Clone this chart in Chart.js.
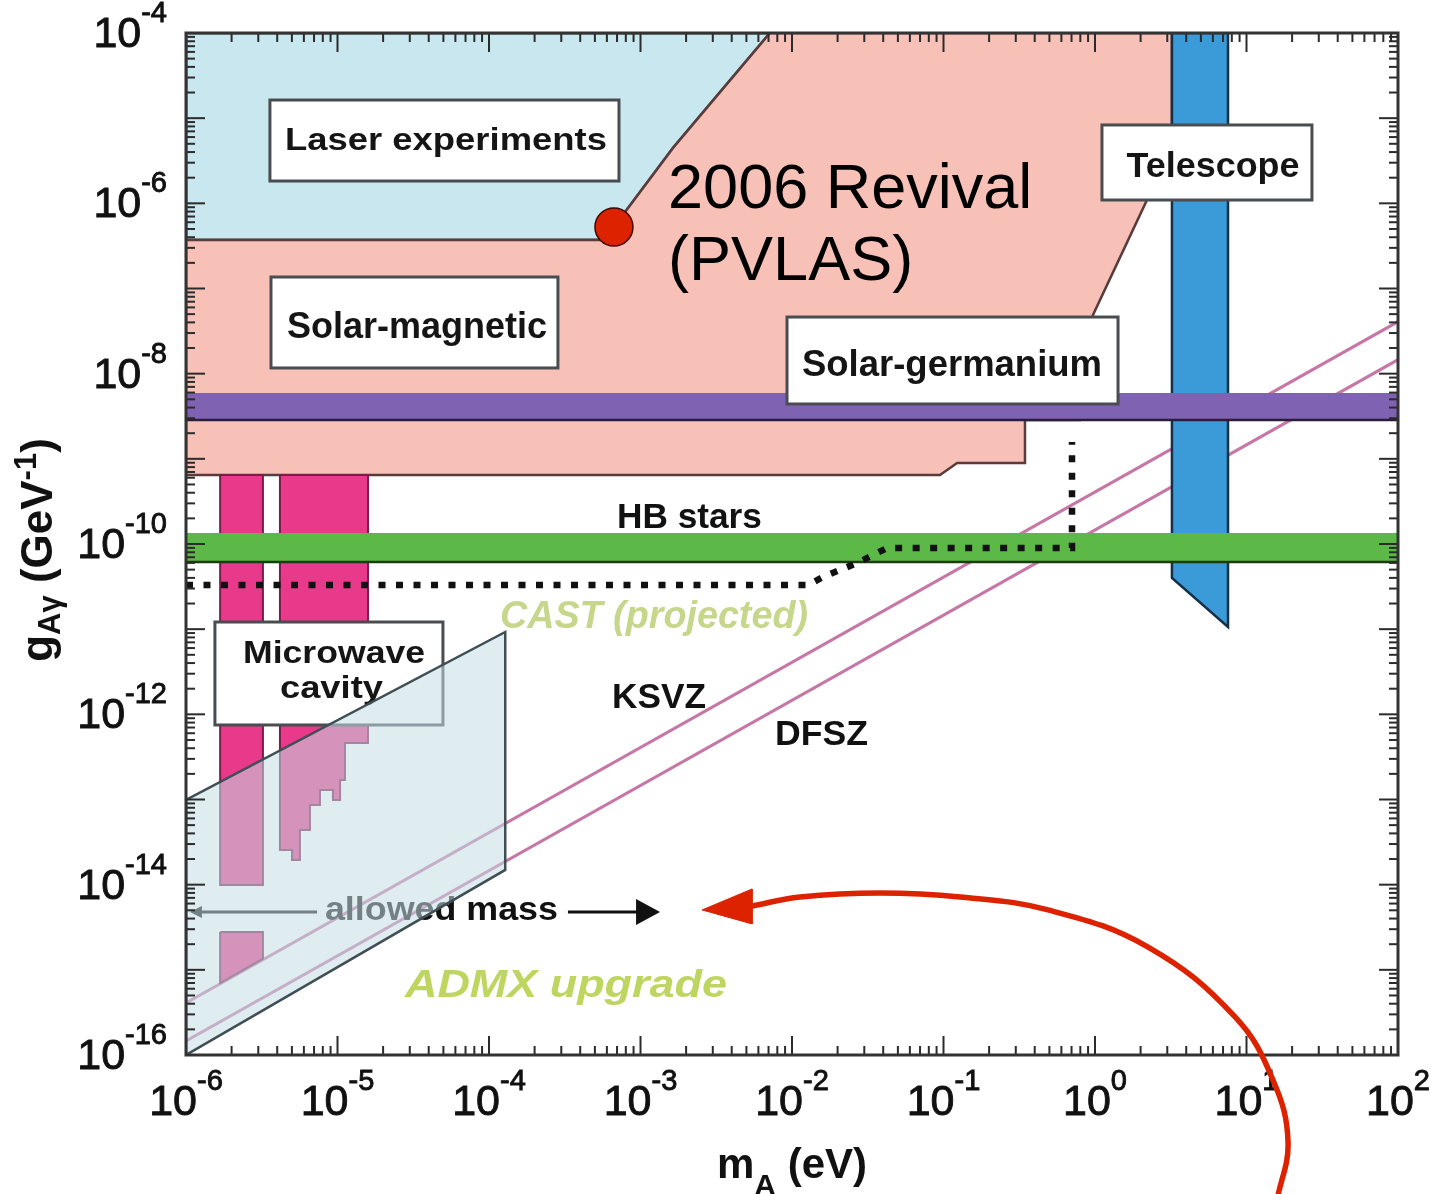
<!DOCTYPE html>
<html>
<head>
<meta charset="utf-8">
<title>Axion exclusion limits</title>
<script src="https://cdn.jsdelivr.net/npm/chart.js@4.4.1/dist/chart.umd.min.js"></script>
<style>
  html, body { margin: 0; padding: 0; background: #ffffff; }
  canvas { display: block; }
</style>
</head>
<body>
<canvas id="chart" width="1431" height="1194"></canvas>
<script>
// Axion mass m_A (eV) against photon coupling g_Aγ (GeV^-1); every pair is [m_A, g].
const xTickExponents = [-6, -5, -4, -3, -2, -1, 0, 1, 2];
const yTickExponents = [-4, -6, -8, -10, -12, -14, -16];

const laserExperiments = [[1e-6,1e-4],[7.16e-3,1e-4],[1.64e-3,4.47e-6],[6.68e-4,5.27e-7],[5.41e-4,3.71e-7],[1e-6,3.71e-7],[1e-6,1e-4]];
const solarMagnetic = [[1e-6,3.71e-7],[5.41e-4,3.71e-7],[6.68e-4,5.27e-7],[1.64e-3,4.47e-6],[7.16e-3,1e-4],[3.22,1e-4],[3.22,1.25e-6],[2.20,1.09e-6],[0.97,4.89e-8],[0.796,2.86e-9],[0.345,2.86e-9],[0.345,8.93e-10],[0.123,8.93e-10],[9.48e-2,6.46e-10],[1e-6,6.46e-10],[1e-6,3.71e-7]];
const ksvzLine = [[1e-6,4.08e-16],[1e2,4.08e-8]];
const dfszLine = [[1e-6,1.46e-16],[1e2,1.46e-8]];
const cavityBandA = [[1.68e-6,6.46e-10],[3.22e-6,6.46e-10],[3.22e-6,9.93e-15],[1.68e-6,9.93e-15],[1.68e-6,6.46e-10]];
const cavityBandALow = [[1.68e-6,2.79e-15],[3.22e-6,2.79e-15],[3.22e-6,1.35e-15],[1.68e-6,7.0e-16],[1.68e-6,2.79e-15]];
const cavityBandB = [[4.17e-6,6.46e-10],[1.59e-5,6.46e-10],[1.59e-5,4.61e-13],[1.12e-5,4.61e-13],[1.12e-5,1.69e-13],[1.04e-5,1.69e-13],[1.04e-5,9.88e-14],[9.33e-6,9.88e-14],[9.33e-6,1.29e-13],[7.66e-6,1.29e-13],[7.66e-6,8.63e-14],[6.58e-6,8.63e-14],[6.58e-6,4.39e-14],[5.65e-6,4.39e-14],[5.65e-6,1.95e-14],[5.01e-6,1.95e-14],[5.01e-6,2.55e-14],[4.17e-6,2.55e-14],[4.17e-6,6.46e-10]];
const telescope = [[3.22,1e-4],[7.55,1e-4],[7.55,1.06e-11],[3.22,3.99e-11],[3.22,1e-4]];
const solarGermanium = [[1e-6,5.93e-9],[1e2,5.93e-9],[1e2,2.86e-9],[1e-6,2.86e-9],[1e-6,5.93e-9]];
const solarGermaniumEdge = [[1e-6,2.86e-9],[1e2,2.86e-9]];
const hbStars = [[1e-6,1.35e-10],[1e2,1.35e-10],[1e2,6.15e-11],[1e-6,6.15e-11],[1e-6,1.35e-10]];
const hbStarsEdge = [[1e-6,6.15e-11],[1e2,6.15e-11]];
const castProjected = [[1e-6,3.30e-11],[1.28e-2,3.30e-11],[1.60e-2,4.10e-11],[2.07e-2,4.95e-11],[2.69e-2,5.98e-11],[3.43e-2,7.43e-11],[4.24e-2,8.98e-11],[0.705,8.98e-11],[0.705,1.58e-9]];
const admxUpgrade = [[1e-6,9.88e-14],[1.28e-4,9.27e-12],[1.28e-4,1.49e-14],[1e-6,1e-16],[1e-6,9.88e-14]];
const revivalArc = [[5.45e-3,5.62e-15],[1.13e-2,7.18e-15],[3.81e-2,8.0e-15],[0.129,7.18e-15],[0.490,5.05e-15],[2.24,1.85e-15],[8.40,2.80e-16],[14.96,5.09e-17],[18.8,9.53e-18],[15.9,1.99e-18]];
const revivalArrowHead = [[2.55e-3,5.05e-15],[5.45e-3,8.9e-15],[5.45e-3,3.46e-15],[2.55e-3,5.05e-15]];
const pvlasPoint = [[6.68e-4,5.27e-7]];

const toXY = a => a.map(([x, y]) => ({ x, y }));
const FONT = '"Liberation Sans", Arial, Helvetica, sans-serif';

function region(tag, arr, fillColor, borderColor, borderWidth) {
  return { tag, data: toXY(arr), fill: 'shape', backgroundColor: fillColor,
           borderColor, borderWidth, borderJoinStyle: 'miter', pointRadius: 0 };
}
function path(tag, arr, color, width, extra) {
  return Object.assign({ tag, data: toXY(arr), fill: false, borderColor: color,
           borderWidth: width, pointRadius: 0 }, extra || {});
}

const datasets = [
  region('laser', laserExperiments, '#c9e7ef', '#4f5a5f', 3),
  region('solar-magnetic', solarMagnetic, '#f7c1b8', '#5a3b3b', 2.5),
  path('ksvz', ksvzLine, 'rgba(192,104,156,0.9)', 3),
  path('dfsz', dfszLine, 'rgba(192,104,156,0.9)', 3),
  region('cavity-a', cavityBandA, '#e8398b', '#7b1d4c', 2),
  region('cavity-a-low', cavityBandALow, '#e8398b', '#7b1d4c', 2),
  region('cavity-b', cavityBandB, '#e8398b', '#7b1d4c', 2),
  region('telescope', telescope, '#3b9ad8', '#143049', 2.5),
  region('solar-germanium', solarGermanium, '#7f62b2', 'rgba(0,0,0,0)', 0),
  path('solar-germanium-edge', solarGermaniumEdge, '#2a1f3a', 2.5),
  region('hb-stars', hbStars, '#5cb947', 'rgba(0,0,0,0)', 0),
  path('hb-stars-edge', hbStarsEdge, '#1d3a12', 2.5),
  path('cast', castProjected, '#111111', 6.5, { borderDash: [7, 10.5], borderCapStyle: 'butt', borderJoinStyle: 'miter' }),
  region('admx', admxUpgrade, 'rgba(196,222,230,0.55)', '#3f4f55', 2.5),
  path('revival-arc', revivalArc, '#dd2200', 5.5, { tension: 0.4, capBezierPoints: false, clip: false, borderCapStyle: 'round' }),
  Object.assign(region('revival-head', revivalArrowHead, '#dd2200', '#dd2200', 1), { clip: false }),
  { tag: 'pvlas', data: toXY(pvlasPoint), showLine: false, pointRadius: 19,
    pointBackgroundColor: '#dd2200', pointBorderColor: '#3a0a00', pointBorderWidth: 1.5, clip: false }
];
// first entry sits at the bottom of the stack
datasets.forEach((d, i) => { d.order = datasets.length - i; d.pointHoverRadius = 0; });

// Label boxes and free texts, positioned in log10 data coordinates [log m, log g].
const labelBoxes = [
  { box: [-5.446, -4.787, -3.142, -5.738], lines: [{ t: 'Laser experiments', at: [-4.284, -5.374], size: 31, w: 322 }] },
  { box: [-5.439, -6.865, -3.545, -7.933], lines: [{ t: 'Solar-magnetic', at: [-4.475, -7.581], size: 36, w: 260 }] },
  { box: [-2.033, -7.335, 0.152, -8.356], lines: [{ t: 'Solar-germanium', at: [-0.944, -8.027], size: 36, w: 300 }] },
  { box: [0.046, -5.080, 1.432, -5.961], lines: [{ t: 'Telescope', at: [0.779, -5.691], size: 35, w: 173 }] },
  { box: [-5.809, -10.916, -4.304, -12.125], lines: [
      { t: 'Microwave', at: [-5.023, -11.397], size: 32, w: 182 },
      { t: 'cavity', at: [-5.040, -11.808], size: 32, w: 103 }] }
];
const freeLabels = [
  { t: 'HB stars', at: [-2.677, -9.812], size: 35, w: 145, color: '#111111', style: 'bold' },
  { t: 'CAST (projected)', at: [-2.911, -10.986], size: 38, w: 308, color: '#c6d68a', style: 'italic bold' },
  { t: 'KSVZ', at: [-2.878, -11.925], size: 35, w: 94, color: '#111111', style: 'bold' },
  { t: 'DFSZ', at: [-1.805, -12.360], size: 35, w: 93, color: '#111111', style: 'bold' },
  { t: 'allowed mass', at: [-4.314, -14.414], size: 33, w: 233, color: '#111111', style: 'bold' }
];
const admxLabel = { t: 'ADMX upgrade', at: [-3.492, -15.318], size: 38, w: 322, color: '#bed660', style: 'italic bold' };
const massArrows = { y: -14.321, left: [-5.135, -5.974], right: [-3.479, -2.871] };
const revivalText = { lines: ['2006 Revival', '(PVLAS)'], x: -2.818, ys: [-6.055, -6.900], size: 63 };

function P(chart, lx, ly) {
  return [chart.scales.x.getPixelForValue(Math.pow(10, lx)), chart.scales.y.getPixelForValue(Math.pow(10, ly))];
}
function text(ctx, s, x, y, font, color, align, width) {
  ctx.save();
  ctx.font = font; ctx.fillStyle = color; ctx.textBaseline = 'alphabetic'; ctx.textAlign = 'left';
  const w = ctx.measureText(s).width;
  const sx = width ? width / w : 1;
  const x0 = align === 'center' ? x - w * sx / 2 : align === 'right' ? x - w * sx : x;
  ctx.translate(x0, y); ctx.scale(sx, 1); ctx.fillText(s, 0, 0);
  ctx.restore();
}
function arrow(ctx, x0, y, x1, headLen, headHalf, color) {
  const dir = Math.sign(x1 - x0);
  ctx.save();
  ctx.strokeStyle = color; ctx.fillStyle = color; ctx.lineWidth = 3;
  ctx.beginPath(); ctx.moveTo(x0, y); ctx.lineTo(x1 - dir * headLen * 0.6, y); ctx.stroke();
  ctx.beginPath(); ctx.moveTo(x1, y); ctx.lineTo(x1 - dir * headLen, y - headHalf); ctx.lineTo(x1 - dir * headLen, y + headHalf); ctx.closePath(); ctx.fill();
  ctx.restore();
}

function drawLabels(chart) {
  const ctx = chart.ctx;
  labelBoxes.forEach(b => {
    const [x0, y0] = P(chart, b.box[0], b.box[1]);
    const [x1, y1] = P(chart, b.box[2], b.box[3]);
    ctx.save();
    ctx.fillStyle = '#ffffff'; ctx.fillRect(x0, y0, x1 - x0, y1 - y0);
    ctx.strokeStyle = '#4a4d50'; ctx.lineWidth = 3; ctx.strokeRect(x0, y0, x1 - x0, y1 - y0);
    ctx.restore();
    b.lines.forEach(l => {
      const [x, y] = P(chart, l.at[0], l.at[1]);
      text(ctx, l.t, x, y, 'bold ' + l.size + 'px ' + FONT, '#151515', 'center', l.w);
    });
  });
  freeLabels.forEach(l => {
    const [x, y] = P(chart, l.at[0], l.at[1]);
    text(ctx, l.t, x, y, l.style + ' ' + l.size + 'px ' + FONT, l.color, 'center', l.w);
  });
  const [la, ay] = P(chart, massArrows.left[0], massArrows.y);
  const [lb] = P(chart, massArrows.left[1], massArrows.y);
  arrow(ctx, la, ay, lb, 12, 6, '#111111');
  const [ra] = P(chart, massArrows.right[0], massArrows.y);
  const [rb] = P(chart, massArrows.right[1], massArrows.y);
  arrow(ctx, ra, ay, rb, 24, 13, '#111111');
}

function runs(ctx, parts) {
  // parts: [text, size, baselineShift]; returns total width
  let w = 0;
  parts.forEach(p => { ctx.font = 'bold ' + p[1] + 'px ' + FONT; w += ctx.measureText(p[0]).width; });
  return w;
}
function drawRuns(ctx, parts, x, y) {
  parts.forEach(p => {
    ctx.font = 'bold ' + p[1] + 'px ' + FONT;
    ctx.fillText(p[0], x, y + p[2]);
    x += ctx.measureText(p[0]).width;
  });
}
function heavyText(ctx, s, x, y) {
  ctx.fillText(s, x, y);
  ctx.strokeText(s, x, y);
}

function drawAxes(chart) {
  const { ctx, chartArea: a, scales: { x, y } } = chart;
  ctx.save();
  ctx.strokeStyle = '#2b2b2b'; ctx.lineWidth = 2; ctx.lineCap = 'butt';
  const seg = (x0, y0, x1, y1) => { ctx.beginPath(); ctx.moveTo(x0, y0); ctx.lineTo(x1, y1); ctx.stroke(); };
  for (let e = xTickExponents[0]; e <= xTickExponents[xTickExponents.length - 1]; e++) {
    for (let m = 1; m <= 9; m++) {
      const v = m * Math.pow(10, e);
      if (v > x.max * 1.0001) break;
      const p = x.getPixelForValue(v);
      const L = m === 1 ? 19 : 9;
      seg(p, a.bottom, p, a.bottom - L); seg(p, a.top, p, a.top + L);
    }
  }
  for (let e = -16; e <= -4; e++) {
    for (let m = 1; m <= 9; m++) {
      const v = m * Math.pow(10, e);
      if (v > y.max * 1.0001) break;
      const p = y.getPixelForValue(v);
      const L = m === 1 ? 19 : 9;
      seg(a.left, p, a.left + L, p); seg(a.right, p, a.right - L, p);
    }
  }
  ctx.strokeStyle = '#333333'; ctx.lineWidth = 3;
  ctx.strokeRect(a.left, a.top, a.right - a.left, a.bottom - a.top);

  // tick labels: 10 with a raised exponent
  ctx.fillStyle = '#111111'; ctx.strokeStyle = '#111111'; ctx.lineWidth = 0.9;
  ctx.textBaseline = 'alphabetic'; ctx.textAlign = 'left';
  const baseFont = '43px ' + FONT, expFont = '29px ' + FONT;
  const expStr = e => (e < 0 ? '-' + (-e) : String(e));
  xTickExponents.forEach(e => {
    const p = x.getPixelForValue(Math.pow(10, e));
    ctx.font = baseFont; const w10 = ctx.measureText('10').width;
    ctx.font = expFont; const we = ctx.measureText(expStr(e)).width;
    const x0 = p - (w10 + we) / 2;
    ctx.font = baseFont; heavyText(ctx, '10', x0, a.bottom + 60);
    ctx.font = expFont; heavyText(ctx, expStr(e), x0 + w10, a.bottom + 35);
  });
  yTickExponents.forEach(e => {
    const p = y.getPixelForValue(Math.pow(10, e));
    const right = a.left - 19;
    ctx.font = expFont; const we = ctx.measureText(expStr(e)).width;
    heavyText(ctx, expStr(e), right - we, p - 11);
    ctx.font = baseFont; const w10 = ctx.measureText('10').width;
    heavyText(ctx, '10', right - we - w10, p + 14);
  });

  // axis titles
  const xParts = [['m', 42, 0], ['A', 30, 17], [' (eV)', 42, 0]];
  const xw = runs(ctx, xParts);
  drawRuns(ctx, xParts, (a.left + a.right) / 2 - xw / 2, a.bottom + 123);

  const yParts = [['g', 44, 0], ['Aγ', 31, 8], [' (GeV', 44, 0], ['-1', 31, -16], [')', 44, 0]];
  const yw = runs(ctx, yParts);
  ctx.save();
  ctx.translate(52, (a.top + a.bottom) / 2 + 6);
  ctx.rotate(-Math.PI / 2);
  drawRuns(ctx, yParts, -yw / 2, 0);
  ctx.restore();

  const [ax, ay] = P(chart, admxLabel.at[0], admxLabel.at[1]);
  text(ctx, admxLabel.t, ax, ay, admxLabel.style + ' ' + admxLabel.size + 'px ' + FONT, admxLabel.color, 'center', admxLabel.w);
  ctx.restore();
}

function drawRevival(chart) {
  const ctx = chart.ctx;
  revivalText.lines.forEach((s, i) => {
    const [x, y] = P(chart, revivalText.x, revivalText.ys[i]);
    text(ctx, s, x, y, revivalText.size + 'px ' + FONT, '#000000', 'left');
  });
}

const layers = {
  id: 'layers',
  afterDatasetDraw(chart, args) {
    const tag = chart.data.datasets[args.index].tag;
    if (tag === 'cast') drawLabels(chart);
    if (tag === 'admx') drawAxes(chart);
  },
  afterDatasetsDraw(chart) { drawRevival(chart); }
};

Chart.defaults.font.family = FONT;

new Chart(document.getElementById('chart'), {
  type: 'line',
  data: { datasets },
  options: {
    responsive: false,
    devicePixelRatio: 1,
    animation: false,
    events: [],
    layout: { padding: { left: 186, right: 33, top: 33, bottom: 139 } },
    plugins: { legend: { display: false }, tooltip: { enabled: false } },
    scales: {
      x: { type: 'logarithmic', min: 1e-6, max: 1e2, display: false },
      y: { type: 'logarithmic', min: 1e-16, max: 1e-4, display: false }
    }
  },
  plugins: [layers]
});
</script>
</body>
</html>
